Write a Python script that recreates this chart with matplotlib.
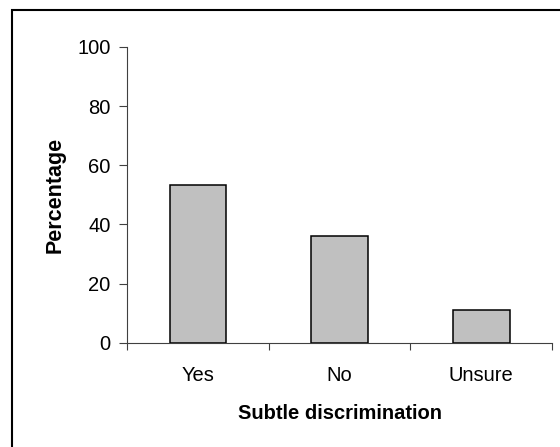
import matplotlib.pyplot as plt
from matplotlib.patches import Rectangle

categories = ['Yes', 'No', 'Unsure']
percentages = [53.3, 36.1, 11.1]
y_ticks = [0, 20, 40, 60, 80, 100]

plt.rcParams['font.family'] = ['Liberation Sans', 'DejaVu Sans']

fig = plt.figure(figsize=(5.6, 4.47), dpi=100)
ax = fig.add_axes([0.227, 0.233, 0.759, 0.662])

x = list(range(len(categories)))
ax.bar(x, percentages, width=0.4, color='#c0c0c0', edgecolor='black', linewidth=1.1)

ax.set_xlim(-0.5, len(categories) - 0.5)
ax.set_ylim(0, 100)
ax.set_yticks(y_ticks)
ax.set_xticks(x)
ax.set_xticklabels(categories)
ax.tick_params(axis='x', length=0, pad=17, labelsize=14.5)
ax.set_xticks([i - 0.5 for i in range(len(categories) + 1)], minor=True)
ax.tick_params(axis='x', which='minor', length=5, direction='out', width=0.8, color='#404040')
ax.tick_params(axis='y', length=6, width=0.8, color='#404040', labelsize=14.5, pad=6)

for side in ['top', 'right']:
    ax.spines[side].set_visible(False)
for side in ['left', 'bottom']:
    ax.spines[side].set_color('#404040')
    ax.spines[side].set_linewidth(0.8)

ax.set_ylabel('Percentage', fontsize=15.5, fontweight='bold', labelpad=8)
ax.set_xlabel('Subtle discrimination', fontsize=14.5, fontweight='bold', labelpad=13)

# outer frame: only the top and left edges fall inside the image
fig.patches.append(Rectangle((12 / 560, -0.1), 1.2, 437 / 447 + 0.1,
                             transform=fig.transFigure, fill=False,
                             edgecolor='black', linewidth=1.5))

fig.savefig('out.png', dpi=100)
